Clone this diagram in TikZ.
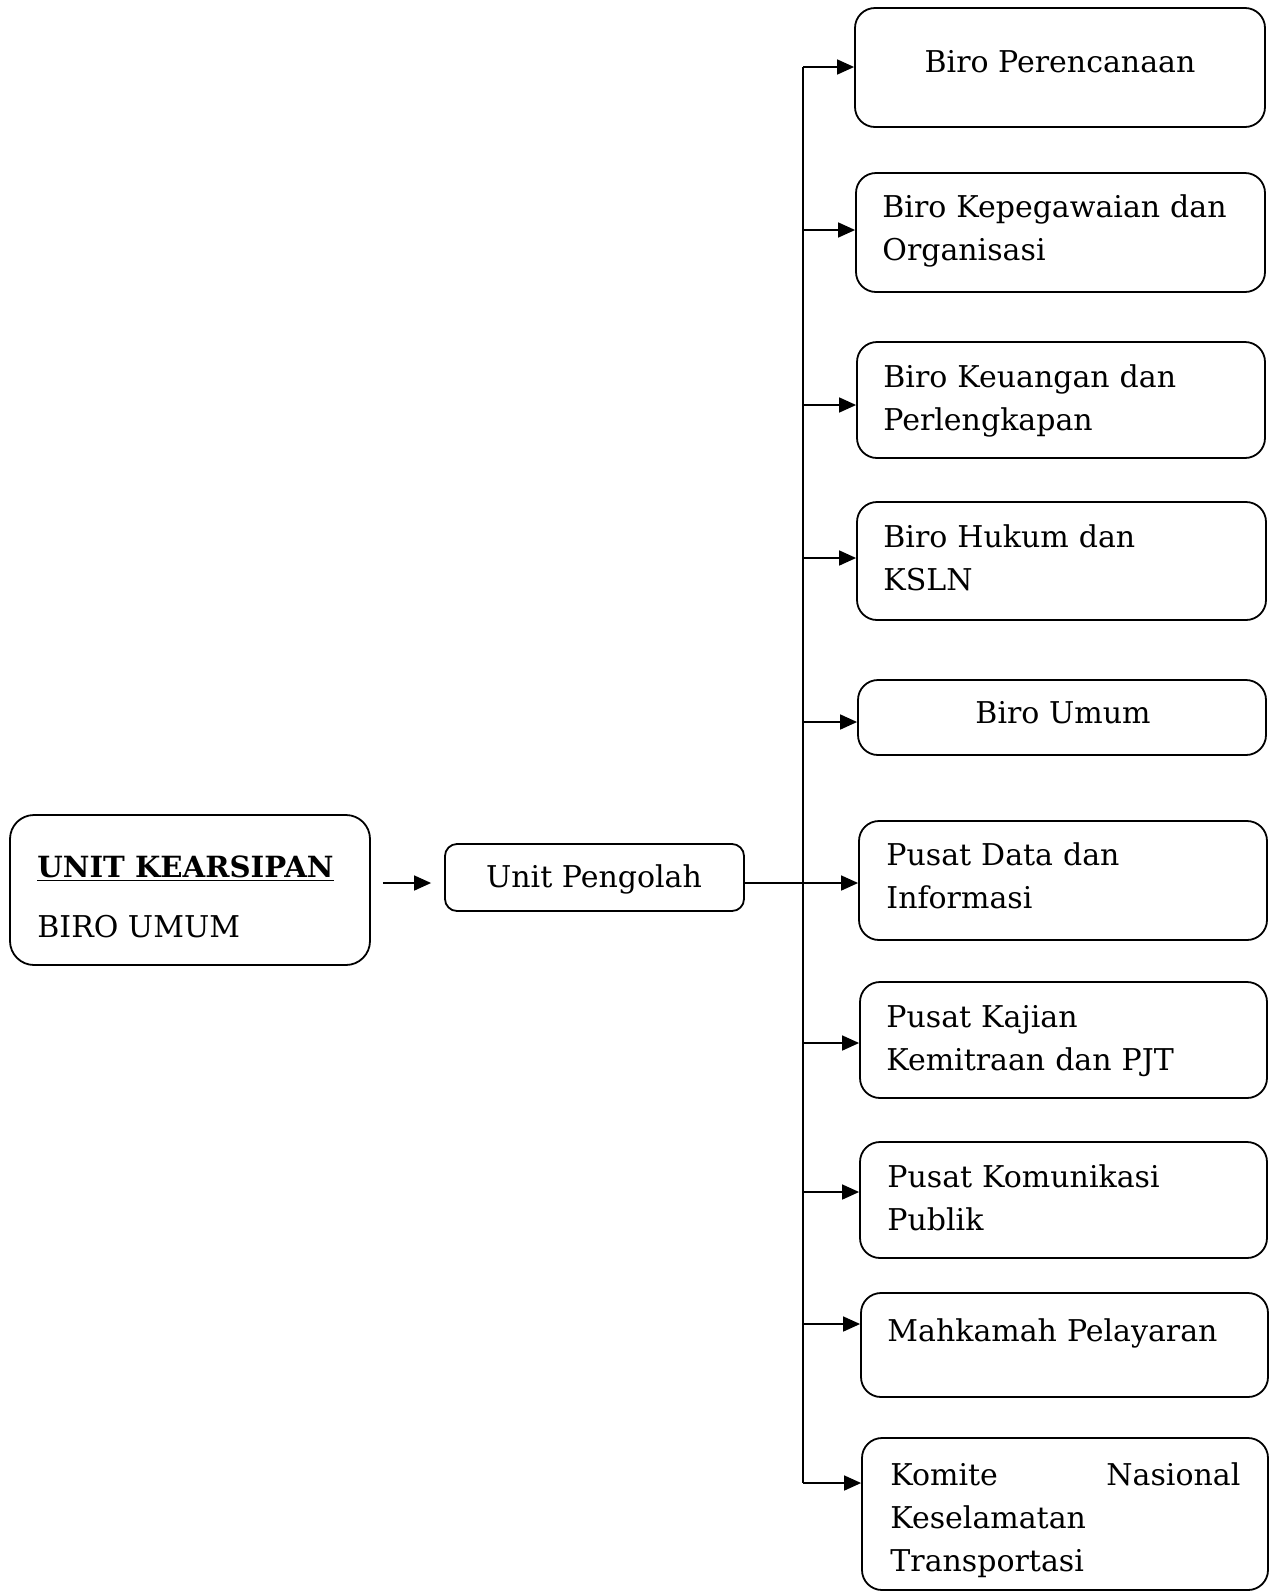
\documentclass[tikz,border=0pt]{standalone}
\usepackage{fontspec}
\setmainfont{DejaVu Serif}
\usetikzlibrary{arrows.meta}
\usetikzlibrary{calc}

\tikzset{
  kotak/.style={draw, line width=0.9pt, rounded corners=10pt, inner sep=0pt},
  teks/.style={inner sep=0pt, font=\fontsize{15}{21.5}\selectfont},
  blok/.style={teks, anchor=base west, text width=185pt, align=left},
  panah/.style={line width=0.8pt, -{Triangle[length=8.5pt,width=7.5pt]}},
}

\begin{document}
\begin{tikzpicture}[x=0.5pt,y=-0.5pt]%unit kearsipan
\useasboundingbox (0,0) rectangle (1272,1591);
% unit kearsipan dan unit pengolah
\node[kotak, rounded corners=12pt, minimum width=180pt, minimum height=75pt] (uk) at (190,890) {};
\node[kotak, rounded corners=6pt, minimum width=149.5pt, minimum height=33.5pt] (up) at (594.5,877.5) {};
\node[teks, anchor=base west, font=\fontsize{14.6}{20}\selectfont\bfseries] (uk1) at (37,877) {\underline{UNIT KEARSIPAN}};
\node[teks, anchor=base west] (uk2) at (37,937) {BIRO UMUM};
\node[teks, anchor=base] (up1) at (594,887) {Unit Pengolah};
% kotak kanan
\foreach \n/\xa/\xb/\ya/\yb in {1/855/1265/8/127, 2/856/1265/173/292, 3/857/1265/342/458,
  4/857/1266/502/620, 5/858/1266/680/755, 6/859/1267/821/940, 7/860/1267/982/1098,
  8/860/1267/1142/1258, 9/861/1268/1293/1397, 10/862/1268/1438/1590}
  \node[kotak, minimum width={(\xb-\xa)*0.5pt}, minimum height={(\yb-\ya)*0.5pt}]
    (b\n) at ({(\xa+\xb)/2},{(\ya+\yb)/2}) {};
\node[teks, anchor=base] (t1) at (1060,72) {Biro Perencanaan};
\node[blok] (t2) at (882,217) {Biro Kepegawaian dan\\Organisasi};
\node[blok] (t3) at (883,387) {Biro Keuangan dan\\Perlengkapan};
\node[blok] (t4) at (883,547) {Biro Hukum dan\\KSLN};
\node[teks, anchor=base] (t5) at (1063,723) {Biro Umum};
\node[blok] (t6) at (886,865) {Pusat Data dan\\Informasi};
\node[blok] (t7) at (886,1027) {Pusat Kajian\\Kemitraan dan PJT};
\node[blok] (t8) at (887,1187) {Pusat Komunikasi\\Publik};
\node[blok] (t9) at (887,1341) {Mahkamah Pelayaran};
\node[blok, text width=175pt] (t10) at (890,1485) {Komite\hfill Nasional\\Keselamatan\\Transportasi};
% garis dan panah
\foreach \n/\y in {1/67,2/230,3/405,4/558,5/722,6/883,7/1043,8/1192,9/1324,10/1483}{
  \coordinate (j\n) at (803,\y);
  \draw[panah] (j\n) -- (j\n -| b\n.west);
}
\draw[line width=0.8pt] (j1) -- (j10);
\draw[panah, shorten <=6pt, shorten >=6.5pt] (uk.east |- j6) -- (up.west |- j6);
\draw[line width=0.8pt] (up.east |- j6) -- (j6);
\end{tikzpicture}
\end{document}
